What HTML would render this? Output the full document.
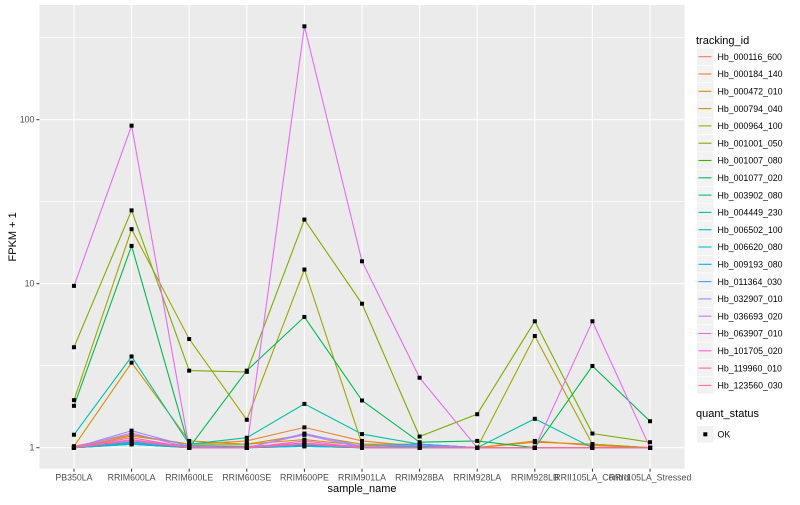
<!DOCTYPE html>
<html><head><meta charset="utf-8"><style>
body{margin:0;background:#fff;font-family:"Liberation Sans",Arial,sans-serif}
svg text{font-family:"Liberation Sans",Arial,sans-serif}
</style></head><body>
<svg id="chart" width="800" height="500" viewBox="0 0 800 500"></svg>
<script>
const categories=["PB350LA","RRIM600LA","RRIM600LE","RRIM600SE","RRIM600PE","RRIM901LA","RRIM928BA","RRIM928LA","RRIM928LB","RRII105LA_Control","RRII105LA_Stressed"];
const seriesNames=["Hb_000116_600","Hb_000184_140","Hb_000472_010","Hb_000794_040","Hb_000964_100","Hb_001001_050","Hb_001007_080","Hb_001077_020","Hb_003902_080","Hb_004449_230","Hb_006502_100","Hb_006620_080","Hb_009193_080","Hb_011364_030","Hb_032907_010","Hb_036693_020","Hb_063907_010","Hb_101705_020","Hb_119960_010","Hb_123560_030"];
const seriesColors=["#F8766D","#EA8331","#D89000","#C09B00","#A3A500","#7CAE00","#39B600","#00BB4E","#00BF7D","#00C1A3","#00BFC4","#00BAE0","#00B0F6","#35A2FF","#9590FF","#C77CFF","#E76BF3","#FA62DB","#FF62BC","#FF6C91"];
const s00=[1,1.05,1,1,1.05,1,1,1,1,1,1];
const s01=[1.02,1.2,1.05,1.1,1.33,1.1,1.02,1,1.1,1.03,1];
const s02=[1.02,3.3,1.1,1.05,1.2,1.05,1,1,1.08,1.05,1];
const s03=[1,1.18,1.05,1.05,1.12,1.03,1.02,1,1,1,1];
const s04=[1.95,21.5,4.6,1.48,12.2,1.05,1.05,1,4.8,1.05,1];
const s05=[4.1,28,2.95,2.9,24.6,7.55,1.17,1.6,5.9,1.22,1.08];
const s06=[1,1.05,1,1,1.03,1,1,1,1,1,1];
const s07=[1.8,17,1.0,2.95,6.27,1.94,1.08,1.1,1,3.15,1.45];
const s08=[1,1.05,1.02,1,1.02,1,1,1,1,1,1];
const s09=[1.2,3.6,1.05,1.15,1.85,1.21,1.05,1,1.5,1,1];
const s10=[1,1.08,1.03,1.02,1.04,1,1.02,1,1,1,1];
const s11=[1,1.05,1,1,1.02,1,1,1,1,1,1];
const s12=[1,1.07,1,1,1.03,1,1,1,1,1,1];
const s13=[1,1.1,1.02,1,1.05,1.02,1.05,1,1,1,1];
const s14=[1,1.27,1.02,1,1.22,1.02,1.03,1,1,1,1];
const s15=[1,1.23,1,1,1.2,1,1,1,1,1,1];
const s16=[9.7,92,1.0,1.0,371,13.7,2.67,1,1,5.9,1];
const s17=[1,1.12,1,1,1.1,1,1,1,1,1,1];
const s18=[1,1.15,1,1.01,1.07,1,1,1,1,1,1];
const s19=[1,1.1,1,1,1.05,1,1,1,1,1,1];
const seriesValues=[s00,s01,s02,s03,s04,s05,s06,s07,s08,s09,s10,s11,s12,s13,s14,s15,s16,s17,s18,s19];
const yTicks=[1,10,100];
const yMinor=[3.1623,31.623,316.23];

const NS="http://www.w3.org/2000/svg";
const svg=document.getElementById('chart');
const PL=39.4,PR=684.6,PT=5,PB=468.7;
const step=(PR-PL)/(categories.length+0.2);
function xs(i){return PL+step*(0.6+i);}
function ys(v){return 447.7-164*Math.log10(v);}
function mk(tag,attrs,parent){const e=document.createElementNS(NS,tag);for(const k in attrs)e.setAttribute(k,attrs[k]);(parent||svg).appendChild(e);return e;}

const panel=mk('rect',{x:PL,y:PT,width:PR-PL,height:PB-PT,fill:'#EBEBEB'});


yMinor.forEach(v=>{const y=ys(v);if(y>PT&&y<PB){const l=mk('line',{x1:PL,x2:PR,y1:y,y2:y,stroke:'#fff','stroke-width':0.55});}});
yTicks.forEach(v=>{const y=ys(v);
 const l=mk('line',{x1:PL,x2:PR,y1:y,y2:y,stroke:'#fff','stroke-width':1.1});
 
 
 mk('line',{x1:PL-3,x2:PL,y1:y,y2:y,stroke:'#333','stroke-width':1});
 const t=mk('text',{x:PL-5,y:y+3,'text-anchor':'end','font-size':8.8,fill:'#4D4D4D'});t.textContent=v;
 
 
});
categories.forEach((c,i)=>{const x=xs(i);
 const l=mk('line',{x1:x,x2:x,y1:PT,y2:PB,stroke:'#fff','stroke-width':1.1});
 
 
 mk('line',{x1:x,x2:x,y1:PB,y2:PB+3,stroke:'#333','stroke-width':1});
 const t=mk('text',{x:x,y:PB+12,'text-anchor':'middle','font-size':8.8,fill:'#4D4D4D'});t.textContent=c;
 
 
});
seriesValues.forEach((vals,si)=>{
 const d=vals.map((v,i)=>(i?'L':'M')+xs(i).toFixed(1)+','+ys(v).toFixed(1)).join(' ');
 const p=mk('path',{d:d,fill:'none',stroke:seriesColors[si],'stroke-width':1.1});
 
 
});
seriesValues.forEach((vals,si)=>{vals.forEach((v,i)=>{
 const r=mk('rect',{x:xs(i)-2,y:ys(v)-2,width:4,height:4,fill:'#000'});
 
 
});});
const yt=mk('text',{x:16,y:(PT+PB)/2,'text-anchor':'middle','font-size':11,fill:'#000',transform:'rotate(-90 16 '+((PT+PB)/2)+')'});yt.textContent='FPKM + 1';


const xt=mk('text',{x:(PL+PR)/2,y:492,'text-anchor':'middle','font-size':11,fill:'#000'});xt.textContent='sample_name';


const lt=mk('text',{x:696,y:44,'font-size':11,fill:'#000'});lt.textContent='tracking_id';


seriesNames.forEach((n,i)=>{const cy=56.7+i*17.3;
 const g=mk('g',{});
 
 
 mk('rect',{x:697,y:cy-8.3,width:16.6,height:16.6,fill:'#F2F2F2'},g);
 mk('line',{x1:698.5,x2:711.5,y1:cy,y2:cy,stroke:seriesColors[i],'stroke-width':1.1},g);
 const t=mk('text',{x:717.5,y:cy+3.2,'font-size':8.8,fill:'#000'},g);t.textContent=n;
});
const qt=mk('text',{x:696,y:417,'font-size':11,fill:'#000'});qt.textContent='quant_status';


const qg=mk('g',{});


mk('rect',{x:697,y:426,width:16.6,height:16.6,fill:'#F2F2F2'},qg);
mk('rect',{x:703.3,y:432.3,width:4,height:4,fill:'#000'},qg);
const ok=mk('text',{x:717.5,y:437.5,'font-size':8.8,fill:'#000'},qg);ok.textContent='OK';
</script>
</body></html>
